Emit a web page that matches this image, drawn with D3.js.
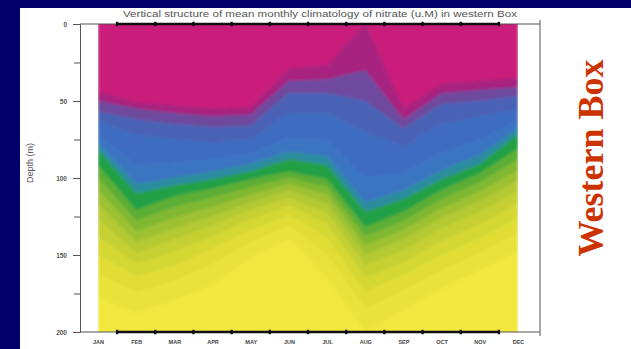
<!DOCTYPE html>
<html>
<head>
<meta charset="utf-8">
<script src="https://cdn.jsdelivr.net/npm/d3@7"></script>
<style>
html,body{margin:0;padding:0;background:#000068;}
svg{display:block;}
</style>
</head>
<body>
<svg id="chart" width="631" height="349"></svg>
<script>
var months=['JAN','FEB','MAR','APR','MAY','JUN','JUL','AUG','SEP','OCT','NOV','DEC']
var depthTicks=[0,50,100,150,200]
var depthMinor=[25,75,125,175]

// depth (m) of each contour boundary, month by month (shallow to deep)
var iso00=[44,51,53,55,54,29,27,0,55,39,37,35]
var iso01=[50,55,58,60,59,37,36,30,62,45,43,41]
var iso02=[57,62,65,67,66,45,45,50,68,52,50,47]
var iso03=[63,72,75,77,75,58,58,70,80,65,60,55]
var iso04=[72,92,90,88,84,74,76,100,97,84,75,63]
var iso05=[78,104,100,96,91,83,86,116,108,95,85,68]
var iso06=[82,110,105,101,96,88,92,122,114,101,91,72]
var iso07=[92,121,112,107,101,96,101,132,122,108,97,81]
var iso08=[100,128,119,113,106,100,106,138,128,114,103,88]
var iso09=[108,135,126,119,111,104,111,144,134,120,109,95]
var iso10=[117,142,133,125,116,108,117,150,140,126,115,102]
var iso11=[127,149,140,131,121,113,123,157,147,133,122,109]
var iso12=[138,156,148,138,127,118,130,165,155,141,130,117]
var iso13=[150,164,157,146,134,124,139,174,163,150,139,126]
var iso14=[163,174,167,156,142,131,150,185,173,160,149,136]
var iso15=[178,188,180,170,152,140,165,200,186,172,160,148]

var bandColors=['#ca1d7a','#a8207f','#6e489e','#4a62b6','#3d6cc0','#3a75c2','#2c8c9e','#22a044',
	'#5cae35','#80b832','#9ec131','#b4c930','#c6d031','#d5d733','#e1dd35','#e9e238','#f1e73c']

var title='Vertical structure of mean monthly climatology of nitrate (u.M) in western Box'

var isolines=[iso00,iso01,iso02,iso03,iso04,iso05,iso06,iso07,iso08,iso09,iso10,iso11,iso12,iso13,iso14,iso15]

function drawChart(){
	var svg=d3.select('#chart')

	svg.append('rect').attr('width',631).attr('height',349).attr('fill','#000068')
	svg.append('rect').attr('x',20).attr('y',8).attr('width',611).attr('height',341).attr('fill','#ffffff')

	var x=d3.scalePoint().domain(months).range([98,518])
	var xi=d3.scaleLinear().domain([0,11]).range([98,518])
	var y=d3.scaleLinear().domain([0,200]).range([24,332])

	var defs=svg.append('defs')
	defs.append('clipPath').attr('id','plotclip')
		.append('rect').attr('x',98).attr('y',24).attr('width',420).attr('height',308)
	defs.append('filter').attr('id','soft').attr('x','-5%').attr('y','-5%').attr('width','110%').attr('height','110%')
		.append('feGaussianBlur').attr('stdDeviation',1.7)

	var bands=[]
	for(var i=0;i<bandColors.length;i++){
		bands.push({
			color:bandColors[i],
			upper:i==0?null:isolines[i-1],
			lower:i<isolines.length?isolines[i]:null
		})
	}

	var area=d3.area()
		.x(function(d){return x(d.m)})
		.y0(function(d){return y(d.t)})
		.y1(function(d){return y(d.b)})
		.curve(d3.curveLinear)

	var plot=svg.append('g').attr('clip-path','url(#plotclip)')
		.append('g').attr('filter','url(#soft)')

	plot.selectAll('path.band')
		.data(bands)
		.enter().append('path')
		.attr('class','band')
		.attr('fill',function(d){return d.color})
		.attr('stroke',function(d){return d.color})
		.attr('stroke-width',0.6)
		.attr('d',function(d){
			var pts=months.map(function(m,j){
				return {m:m,t:d.upper?d.upper[j]:-10,b:d.lower?d.lower[j]:215}
			})
			return area(pts)
		})

	// frame
	var frame=svg.append('g').attr('stroke','#555').attr('fill','none')
	frame.append('line').attr('x1',80).attr('x2',540).attr('y1',y(0)).attr('y2',y(0))
	frame.append('line').attr('x1',80).attr('x2',540).attr('y1',y(200)).attr('y2',y(200))
	frame.append('line').attr('x1',540).attr('x2',540).attr('y1',20).attr('y2',336)

	var mids=d3.range(11).map(function(k){return k+0.5})
	;[y(0),y(200)].forEach(function(yy){
		svg.append('line').attr('x1',xi(0.5)).attr('x2',xi(10.5)).attr('y1',yy).attr('y2',yy)
			.attr('stroke','#111').attr('stroke-width',2.4)
		svg.selectAll(null).data(mids).enter().append('rect')
			.attr('x',function(d){return xi(d)-1.2})
			.attr('y',yy-2.2)
			.attr('width',2.4).attr('height',4.4)
			.attr('fill','#111')
	})

	// depth axis
	var yAxis=svg.append('g').attr('transform','translate(80,0)')
		.call(d3.axisLeft(y).tickValues(depthTicks).tickSize(7).tickPadding(6))
	yAxis.selectAll('path,line').attr('stroke','#555')
	yAxis.selectAll('text').attr('font-family','Liberation Sans, Arial, sans-serif').attr('font-size',6.5)
		.attr('font-weight','bold').attr('fill','#555')

	var yMinor=svg.append('g').attr('transform','translate(80,0)')
		.call(d3.axisLeft(y).tickValues(depthMinor).tickSize(6).tickFormat(''))
	yMinor.select('.domain').remove()
	yMinor.selectAll('line').attr('stroke','#555')

	// month labels
	var xAxis=svg.append('g').attr('transform','translate(0,'+(y(200)+3)+')')
		.call(d3.axisBottom(x).tickSize(0).tickPadding(5))
	xAxis.select('.domain').remove()
	xAxis.selectAll('text').attr('font-family','Liberation Sans, Arial, sans-serif').attr('font-size',5.5)
		.attr('font-weight','bold').attr('fill','#444')

	svg.append('text')
		.attr('x',320).attr('y',17)
		.attr('text-anchor','middle')
		.attr('font-family','Liberation Sans, Arial, sans-serif')
		.attr('font-size',8.5)
		.attr('fill','#555')
		.attr('textLength',394)
		.attr('lengthAdjust','spacingAndGlyphs')
		.text(title)

	svg.append('text')
		.attr('transform','translate(33,163) rotate(-90)')
		.attr('text-anchor','middle')
		.attr('font-family','Liberation Sans, Arial, sans-serif')
		.attr('font-size',9)
		.attr('fill','#555')
		.text('Depth (m)')

	svg.append('text')
		.attr('transform','translate(603,158) rotate(-90)')
		.attr('text-anchor','middle')
		.attr('font-family','Liberation Serif, Times New Roman, serif')
		.attr('font-size',36)
		.attr('font-weight','bold')
		.attr('fill','#cc3300')
		.text('Western Box')
}
drawChart()
</script>
</body>
</html>
